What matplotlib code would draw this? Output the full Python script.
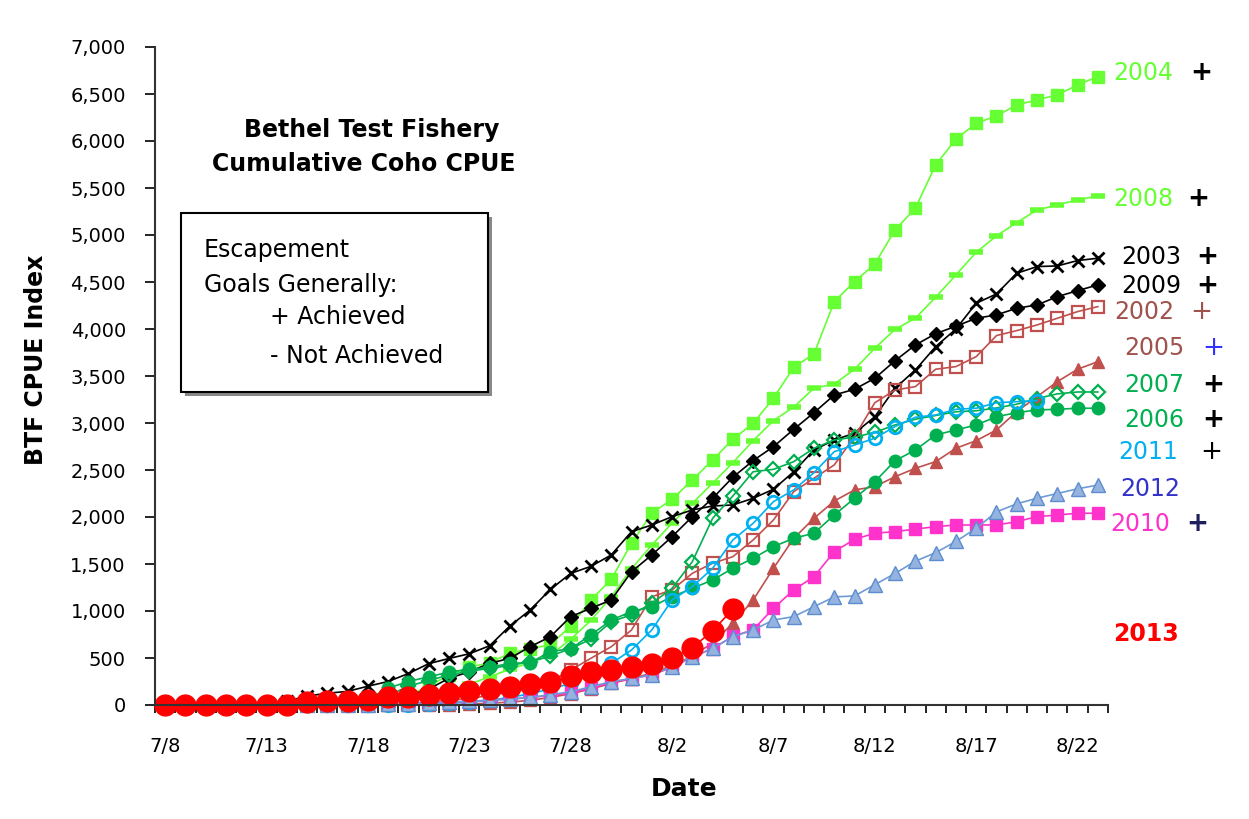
import matplotlib
matplotlib.use("Agg")
import matplotlib.pyplot as plt
from matplotlib.patches import Rectangle
from matplotlib.ticker import FuncFormatter, MultipleLocator, FixedLocator

# --- data: cumulative CPUE, one value per day from 7/8 to 8/23 ---
dates = ["7/8", "7/9", "7/10", "7/11", "7/12", "7/13", "7/14", "7/15", "7/16", "7/17",
         "7/18", "7/19", "7/20", "7/21", "7/22", "7/23", "7/24", "7/25", "7/26", "7/27",
         "7/28", "7/29", "7/30", "7/31", "8/1", "8/2", "8/3", "8/4", "8/5", "8/6",
         "8/7", "8/8", "8/9", "8/10", "8/11", "8/12", "8/13", "8/14", "8/15", "8/16",
         "8/17", "8/18", "8/19", "8/20", "8/21", "8/22", "8/23"]
tick_labels = ["7/8", "7/13", "7/18", "7/23", "7/28", "8/2", "8/7", "8/12", "8/17", "8/22"]

y2004 = [0, 0, 0, 0, 0, 0, 0, 0, 0, 10, 20, 40, 100, 200, 320, 400, 450, 550, 600, 640,
         840, 1117, 1337, 1720, 2040, 2189, 2394, 2607, 2827, 2997, 3263, 3593, 3735, 4291,
         4504, 4692, 5054, 5285, 5746, 6019, 6189, 6267, 6384, 6437, 6490, 6597, 6685]
y2008 = [0, 0, 0, 0, 0, 0, 0, 0, 0, 10, 20, 35, 60, 100, 150, 220, 300, 380, 450, 530,
         700, 900, 1150, 1450, 1700, 1936, 2146, 2359, 2578, 2812, 3025, 3170, 3370, 3415,
         3572, 3795, 3997, 4114, 4338, 4575, 4816, 4990, 5132, 5266, 5320, 5373, 5416]
y2003 = [0, 0, 0, 0, 5, 15, 40, 95, 125, 145, 200, 250, 335, 440, 495, 545, 630, 840, 1010,
         1230, 1400, 1475, 1596, 1844, 1915, 2004, 2075, 2117, 2128, 2199, 2295, 2482, 2713,
         2820, 2891, 3067, 3370, 3564, 3812, 4000, 4274, 4373, 4593, 4664, 4671, 4728, 4753]
y2009 = [0, 0, 0, 0, 0, 0, 0, 0, 5, 10, 20, 40, 100, 170, 284, 354, 443, 497, 620, 727,
         940, 1029, 1117, 1418, 1596, 1791, 2004, 2199, 2423, 2600, 2748, 2933, 3110, 3298,
         3359, 3476, 3663, 3830, 3950, 4030, 4114, 4150, 4221, 4256, 4344, 4408, 4469]
y2002 = [0, 0, 0, 0, 0, 0, 0, 0, 0, 0, 0, 5, 15, 30, 50, 70, 100, 140, 190, 250,
         372, 497, 620, 798, 1152, 1224, 1401, 1508, 1578, 1756, 1968, 2270, 2412, 2554,
         2855, 3216, 3351, 3387, 3572, 3600, 3706, 3930, 3983, 4043, 4114, 4185, 4238]
y2005 = [0, 0, 0, 0, 0, 0, 0, 0, 0, 0, 0, 0, 0, 0, 0, 10, 20, 30, 50, 80,
         120, 170, 230, 280, 340, 420, 520, 660, 870, 1117, 1454, 1773, 1986, 2170,
         2288, 2323, 2429, 2518, 2589, 2731, 2812, 2926, 3121, 3280, 3440, 3572, 3653]
y2007 = [0, 0, 0, 0, 0, 0, 0, 0, 0, 0, 0, 100, 200, 260, 320, 360, 390, 420, 460, 520,
         600, 700, 886, 960, 1082, 1241, 1525, 1986, 2224, 2482, 2507, 2589, 2731, 2820,
         2850, 2900, 2980, 3040, 3080, 3120, 3130, 3160, 3200, 3260, 3310, 3330, 3330]
y2006 = [0, 0, 0, 0, 0, 0, 0, 0, 0, 10, 60, 180, 250, 300, 350, 380, 400, 443, 450, 567,
         600, 745, 904, 993, 1046, 1152, 1241, 1330, 1454, 1561, 1684, 1774, 1827, 2022,
         2199, 2376, 2599, 2713, 2873, 2926, 2979, 3067, 3110, 3139, 3146, 3157, 3157]
y2011 = [0, 0, 0, 0, 0, 0, 0, 0, 0, 0, 0, 0, 5, 10, 20, 30, 50, 80, 120, 170,
         230, 330, 443, 585, 798, 1117, 1259, 1454, 1756, 1933, 2163, 2288, 2472, 2695,
         2766, 2838, 2962, 3061, 3085, 3146, 3157, 3216, 3227, 3238, None, None, None]
y2010 = [0, 0, 0, 0, 0, 0, 0, 0, 0, 0, 5, 10, 15, 20, 30, 40, 50, 65, 80, 100,
         130, 180, 240, 280, 320, 400, 510, 600, 730, 800, 1029, 1224, 1365, 1631,
         1763, 1827, 1844, 1872, 1897, 1915, 1915, 1915, 1950, 2004, 2021, 2040, 2040]
y2012 = [0, 0, 0, 0, 0, 0, 0, 0, 0, 0, 5, 10, 15, 20, 30, 40, 50, 60, 80, 110,
         141, 195, 248, 284, 319, 408, 514, 603, 727, 798, 904, 940, 1046, 1150,
         1160, 1280, 1400, 1530, 1620, 1740, 1880, 2055, 2140, 2200, 2250, 2300, 2340]
y2013 = [0, 0, 0, 0, 0, 0, 0, 30, 40, 45, 55, 80, 90, 110, 130, 145, 165, 190, 220, 240,
         310, 350, 370, 400, 440, 500, 610, 790, 1020] + [None] * 18

GREEN_LT = "#66FF33"
GREEN = "#00B050"
BROWN = "#C0504D"
CYAN = "#00B0F0"
MAGENTA = "#FF33CC"

series = [
    (y2004, dict(color=GREEN_LT, marker="s", ms=9)),
    (y2008, dict(color=GREEN_LT, marker="_", ms=10, mew=4)),
    (y2003, dict(color="black", marker="x", ms=9, mew=2)),
    (y2009, dict(color="black", marker="D", ms=7)),
    (y2002, dict(color=BROWN, marker="s", ms=9, mfc="none", mew=1.6)),
    (y2005, dict(color=BROWN, marker="^", ms=9)),
    (y2007, dict(color=GREEN, marker="D", ms=7, mfc="none", mew=1.6)),
    (y2006, dict(color=GREEN, marker="o", ms=9)),
    (y2011, dict(color=CYAN, marker="o", ms=9, mfc="none", mew=2)),
    (y2010, dict(color=MAGENTA, marker="s", ms=9)),
    (y2012, dict(color="#6E9BD6", marker="^", ms=10, mfc="#95B3DE", mec="#5B8DD0")),
    (y2013, dict(color="red", marker="o", ms=15)),
]

W, H = 1249, 819
fig = plt.figure(figsize=(W / 100, H / 100), dpi=100)
ax = fig.add_axes([155 / W, 1 - 705 / H, (1108 - 155) / W, (705 - 47) / H])

x = list(range(len(dates)))
for vals, style in series:
    xs = [i for i, v in zip(x, vals) if v is not None]
    ys = [v for v in vals if v is not None]
    ax.plot(xs, ys, lw=1.2, clip_on=False, **style)

ax.set_xlim(-0.5, 46.5)
ax.set_ylim(0, 7000)
ax.yaxis.set_major_locator(MultipleLocator(500))
ax.yaxis.set_major_formatter(FuncFormatter(lambda v, p: f"{int(v):,}"))
ax.set_xticks([dates.index(t) for t in tick_labels])
ax.set_xticklabels(tick_labels)
ax.xaxis.set_minor_locator(FixedLocator([i - 0.5 for i in range(len(dates) + 1)]))
ax.tick_params(axis="x", which="major", length=0, pad=23, labelsize=14)
ax.tick_params(axis="x", which="minor", length=6, width=1.2, direction="out")
ax.tick_params(axis="y", which="major", length=7, width=1.2, direction="out", pad=14,
               labelsize=14)
for s in ("top", "right"):
    ax.spines[s].set_visible(False)
for s in ("left", "bottom"):
    ax.spines[s].set_linewidth(1.5)
    ax.spines[s].set_color("#333333")


def ftext(px, py, s, **kw):
    fig.text(px / W, 1 - py / H, s, **kw)


ftext(36, 360, "BTF CPUE Index", rotation=90, ha="center", va="center", fontsize=17,
      fontweight="bold")
ftext(684, 789, "Date", ha="center", va="center", fontsize=18, fontweight="bold")

ftext(372, 130, "Bethel Test Fishery", ha="center", va="center", fontsize=17, fontweight="bold")
ftext(364, 164, "Cumulative Coho CPUE", ha="center", va="center", fontsize=17, fontweight="bold")

# note box with drop shadow
fig.patches.append(Rectangle((185 / W, 1 - 396 / H), 307 / W, 179 / H, transform=fig.transFigure,
                             facecolor="#888888", edgecolor="none", zorder=1))
fig.patches.append(Rectangle((181 / W, 1 - 392 / H), 307 / W, 179 / H, transform=fig.transFigure,
                             facecolor="white", edgecolor="black", lw=1.5, zorder=2))
ftext(204, 250, "Escapement", va="center", fontsize=17)
ftext(204, 285, "Goals Generally:", va="center", fontsize=17)
ftext(270, 317, "+ Achieved", va="center", fontsize=17)
ftext(270, 356, "- Not Achieved", va="center", fontsize=17)

# year labels at the right edge
labels = [
    (1113, 73, "2004", GREEN_LT, "normal", 1190, "+", "black", "bold"),
    (1113, 199, "2008", GREEN_LT, "normal", 1187, "+", "black", "bold"),
    (1121, 257, "2003", "black", "normal", 1196, "+", "black", "bold"),
    (1121, 286, "2009", "black", "normal", 1196, "+", "black", "bold"),
    (1114, 312, "2002", "#A0524D", "normal", 1190, "+", "#A0524D", "normal"),
    (1124, 348, "2005", "#A0524D", "normal", 1202, "+", "#3333FF", "normal"),
    (1124, 385, "2007", GREEN, "normal", 1202, "+", "black", "bold"),
    (1124, 420, "2006", GREEN, "normal", 1202, "+", "black", "bold"),
    (1118, 452, "2011", CYAN, "normal", 1200, "+", "black", "normal"),
    (1120, 489, "2012", "#3333CC", "normal", None, "", "", ""),
    (1110, 524, "2010", MAGENTA, "normal", 1186, "+", "#1F1F5F", "bold"),
    (1113, 634, "2013", "#FF0000", "bold", None, "", "", ""),
]
for px, py, yr, col, wt, pxp, plus, pcol, pwt in labels:
    ftext(px, py, yr, color=col, fontweight=wt, fontsize=17, va="center")
    if pxp is not None:
        ftext(pxp, py, plus, color=pcol, fontweight=pwt, fontsize=19, va="center")

fig.savefig("out.png", dpi=100)
